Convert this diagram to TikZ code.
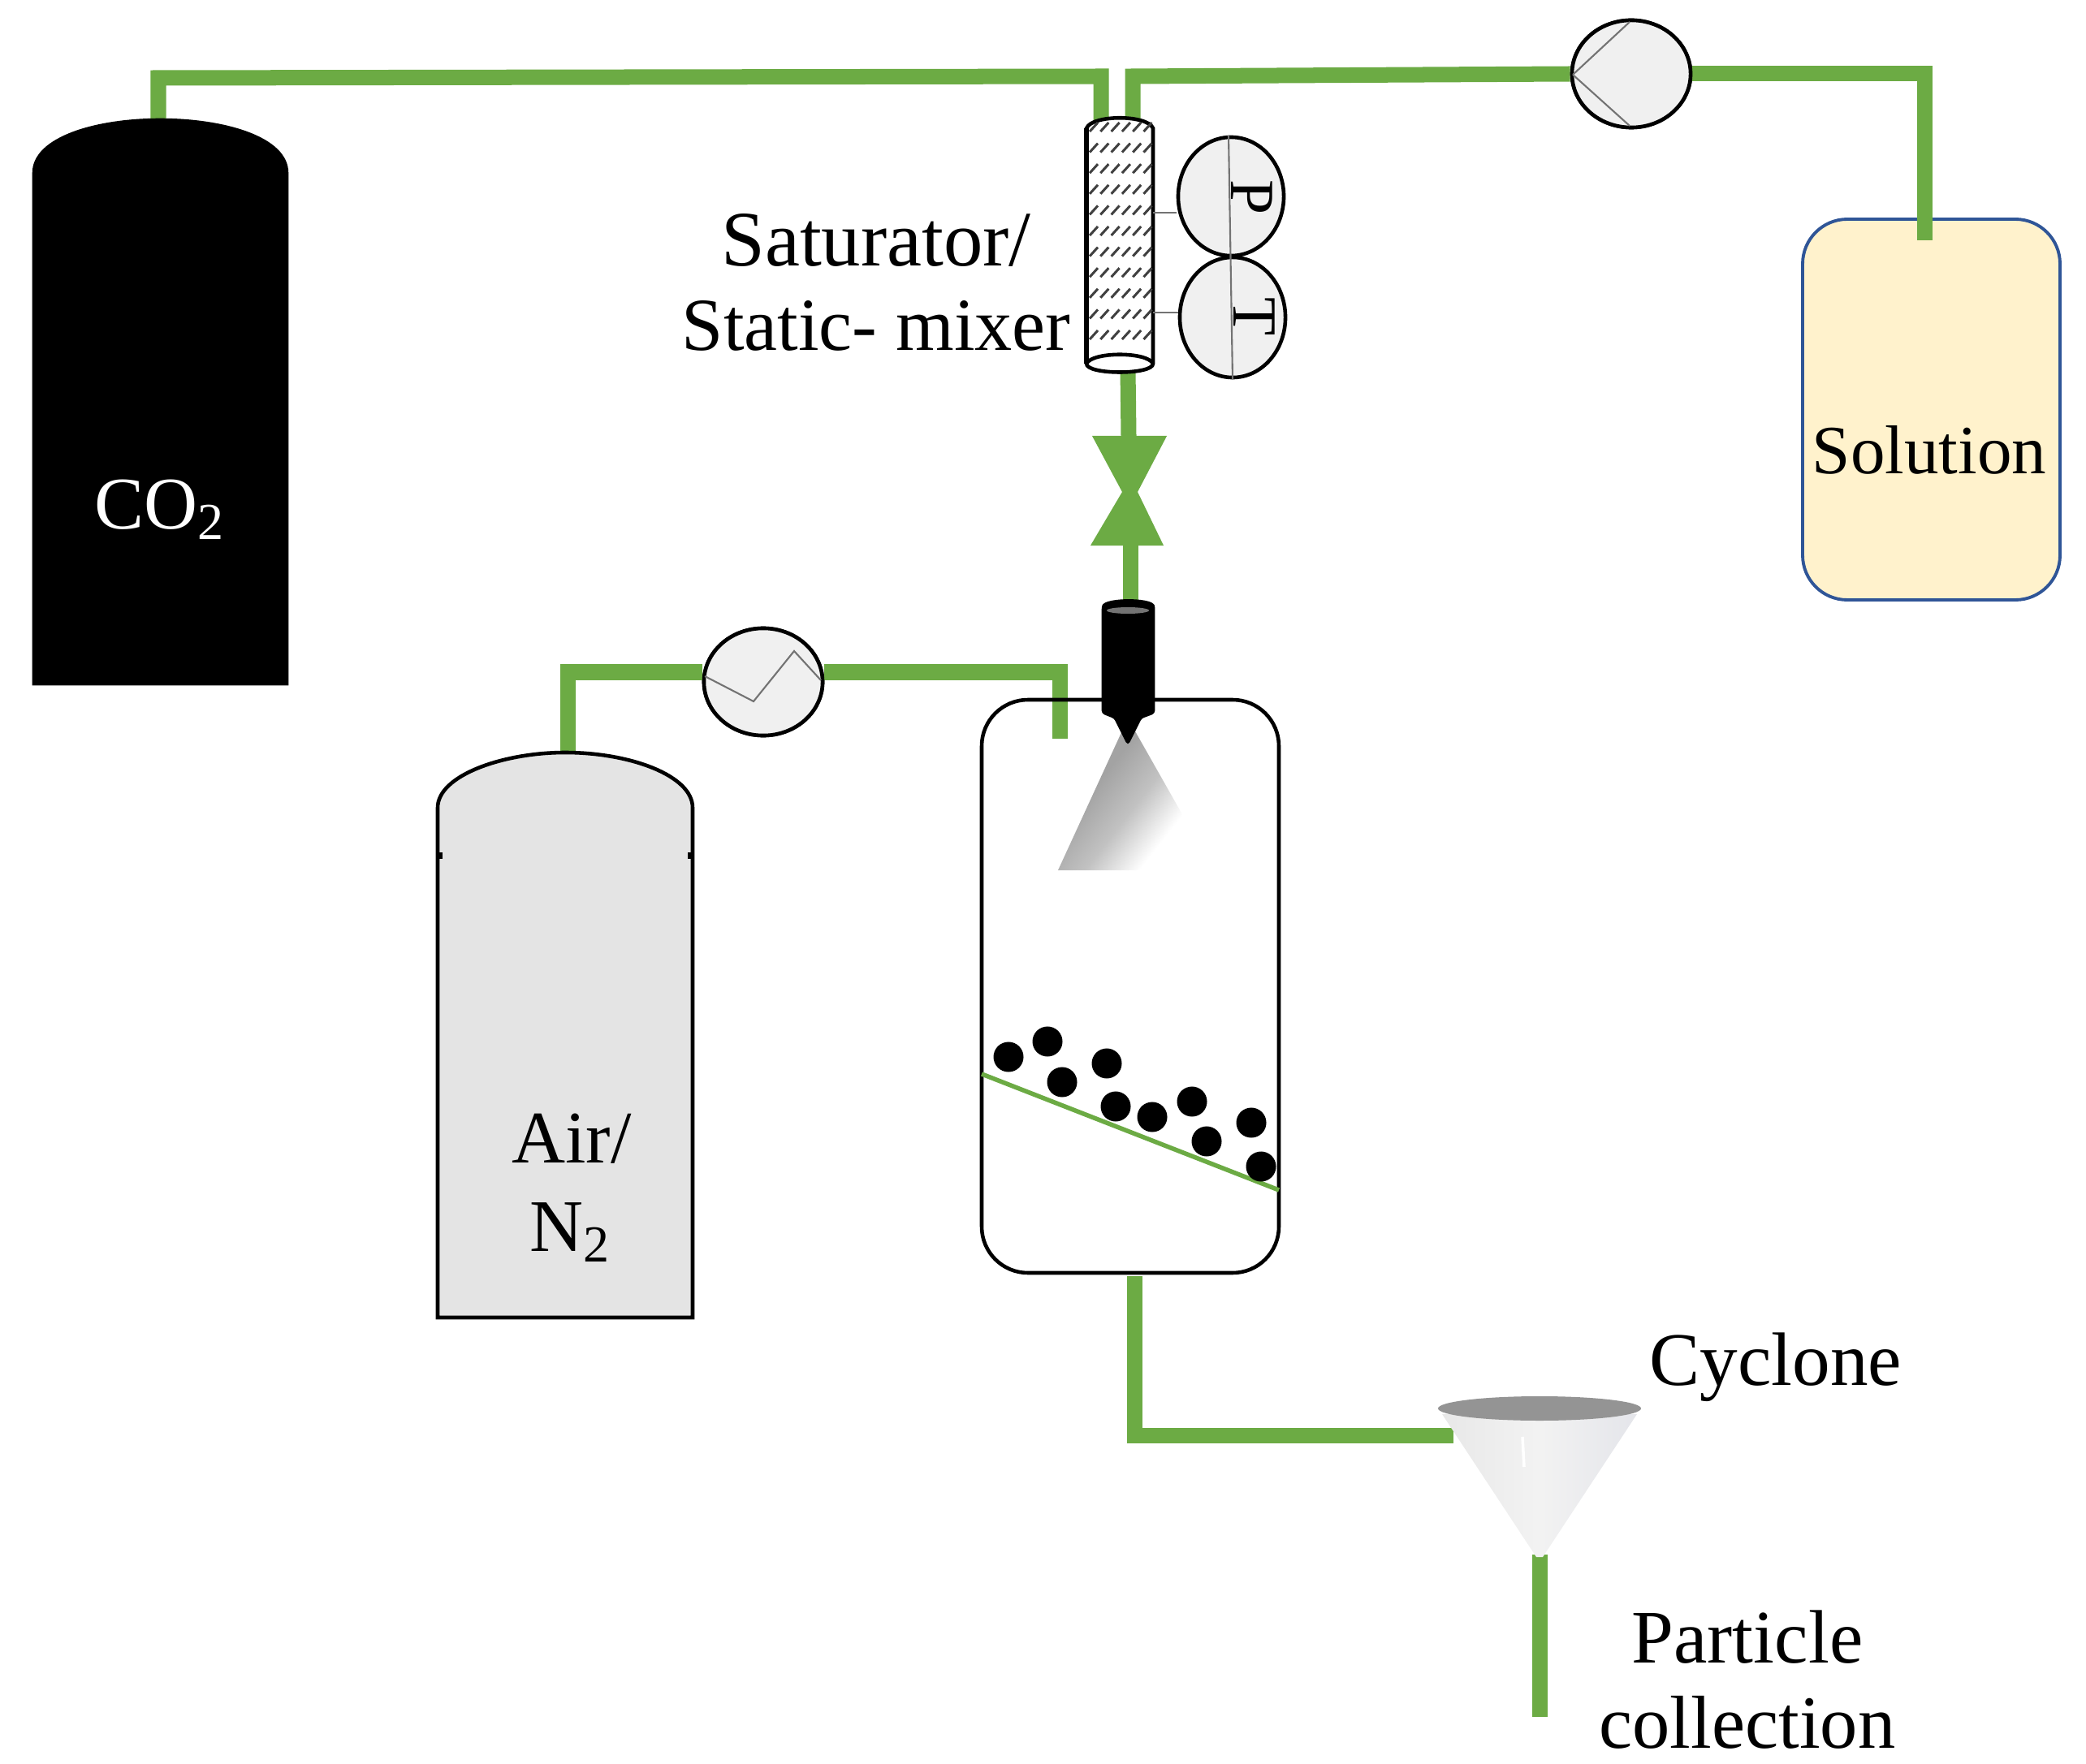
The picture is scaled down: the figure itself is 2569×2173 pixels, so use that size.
\documentclass[tikz,border=0pt]{standalone}
\usepackage{fontspec}
\setmainfont{Liberation Serif}
\usetikzlibrary{shapes.geometric}
\definecolor{pipegreen}{HTML}{6CAB44}
\definecolor{solfill}{HTML}{FFF2CC}
\definecolor{solline}{HTML}{2F5597}
\definecolor{dialfill}{HTML}{F0F0F0}
\definecolor{airfill}{HTML}{E4E4E4}
\definecolor{conefill}{HTML}{E4E5EA}
\pgfdeclarehorizontalshading{spray}{100bp}{color(0bp)=(black!36); color(38bp)=(black!36); color(52bp)=(black!24); color(66bp)=(white); color(100bp)=(white)}
\begin{document}
\begin{tikzpicture}[x=0.01cm,y=-0.01cm,
  pipe/.style={draw=pipegreen,line width=0.19cm,line join=miter},
  dial/.style={ellipse,draw,line width=1.3pt,fill=dialfill,inner sep=0pt,minimum width=1.46cm,minimum height=1.32cm},
  thin gray/.style={draw=black!55,line width=0.6pt},
  bead/.style={circle,fill=black,inner sep=0pt,minimum size=0.37cm},
  tag/.style={font=\fontsize{26}{30}\selectfont,inner sep=0pt}]
  \useasboundingbox (0,0) rectangle (2569,2173);
  \coordinate (co2_top) at (195,150);
  \coordinate (air_top) at (699,930);
  \coordinate (sat_l) at (1356,150);
  \coordinate (sat_r) at (1395,150);
  \coordinate (sat_b) at (1389,455);
  \coordinate (valve_t) at (1390,537);
  \coordinate (valve_b) at (1392,672);
  \coordinate (noz_top) at (1392,742);
  \coordinate (sol_top) at (2370,296);
  \coordinate (air_in) at (1305,910);
  \coordinate (ves_out) at (1397,1572);
  \coordinate (cyc_in) at (1790,1768);
  \coordinate (cyc_out) at (1896,1915);
  \coordinate (collect) at (1896,2115);
  \node[dial] (pump_sol) at (2009,91) {};
  \node[dial] (pump_air) at (940,840) {};

  \draw[pipe] (co2_top) -- (195,96) -- (1356,94) -- (sat_l);
  \draw[pipe] (sat_r) -- (1395,94) -- (pump_sol.west);
  \draw[pipe] (pump_sol.east) -- (2370,91) -- (sol_top);
  \draw[pipe] (sat_b) -- (valve_t);
  \draw[pipe] (valve_b) -- (noz_top);
  \draw[pipe] (air_top) -- (699,828) -- (pump_air.west |- 0,828);
  \draw[pipe] (pump_air.east |- 0,828) -- (1305,828) -- (air_in);
  \draw[pipe] (ves_out) -- (1397,1768) -- (cyc_in);
  \draw[pipe] (cyc_out) -- (collect);

  \node[dial] at (pump_sol) {};
  \node[dial] at (pump_air) {};
  \draw[thin gray] (1937,92) -- (2007,27);
  \draw[thin gray] (1937,92) -- (2007,155);
  \draw[thin gray] (868,833) -- (928,864) -- (978,802) -- (1011,838);

  \fill[pipegreen] (1345,537) -- (1437,537) -- (1401,606) -- (1433,672) -- (1343,672) -- (1382,606) -- cycle;

  \draw[fill=black,line width=1.3pt] (42,842) -- (42,213) .. controls (42,170) and (120,148) .. (197,148) .. controls (275,148) and (353,170) .. (353,213) -- (353,842) -- cycle;
  \node[tag,text=white] (co2) at (197,628) {CO\textsubscript{2}};

  \draw[fill=airfill,line width=1.3pt] (539,1623) -- (539,995) .. controls (539,955) and (620,927) .. (696,927) .. controls (775,927) and (853,955) .. (853,995) -- (853,1623) -- cycle;
  \draw[line width=1.3pt] (543,1050) -- (543,1058) (849,1050) -- (849,1058);
  \node[tag] (air) at (704,1403) {Air/};
  \node[tag] (n2) at (702,1518) {N\textsubscript{2}};

  \draw[draw=solline,fill=solfill,line width=1.1pt,rounded corners=0.55cm] (2220,270) rectangle (2537,739);
  \draw[pipe] (2370,265) -- (sol_top);
  \node[tag,font=\fontsize{24.2}{28}\selectfont] (solution) at (2376,554) {Solution};

  \draw[fill=white,line width=1.3pt] (1338,158) .. controls (1345,141) and (1413,141) .. (1420,158) -- (1420,448) .. controls (1420,462) and (1338,462) .. (1338,448) -- cycle;
  \draw[line width=1.8pt] (1338,158) -- (1338,448);
  \foreach \yy in {0,...,10}
    \foreach \xx in {0,...,5}
      \draw[black!75,line width=0.85pt] (1342+\xx*13.3,162+\yy*25.6) -- +(10,-11);
  \draw[line width=1.3pt] (1338,448) .. controls (1345,433) and (1413,433) .. (1420,448);
  \node[dial,minimum width=1.3cm,minimum height=1.46cm] (gauge_p) at (1516,242) {};
  \node[dial,minimum width=1.3cm,minimum height=1.48cm] (gauge_t) at (1518,391) {};
  \draw[thin gray] (1420,262) -- (gauge_p.west |- 0,262);
  \draw[thin gray] (1420,385) -- (gauge_t.west |- 0,385);
  \draw[thin gray] (gauge_p.north) ++(-3,0) -- (gauge_t.south);
  \node[tag,rotate=-90,font=\fontsize{22}{26}\selectfont] (p) at (1542,243) {P};
  \node[tag,rotate=-90,font=\fontsize{22}{26}\selectfont] (t) at (1545,390) {T};
  \node[tag,font=\fontsize{27.5}{30}\selectfont] (sat1) at (1079,296) {Saturator/};
  \node[tag,font=\fontsize{26.2}{30}\selectfont] (sat2) at (1079,401) {Static- mixer};

  \draw[line width=1.3pt,rounded corners=0.57cm] (1209,862) rectangle (1575,1568);
  \draw[pipegreen,line width=0.055cm] (1209,1323) -- (1575,1466);
  \foreach \bx/\by in {1242/1302,1290/1283,1308/1333,1363/1310,1374/1363,1419/1376,1468/1357,1486/1406,1541/1383,1553/1437}
    \node[bead] at (\bx,\by) {};

  \shade[shading=spray,shading angle=-38] (1389,885) -- (1495,1072) -- (1303,1072) -- cycle;
  \draw[fill=black,line width=0.8pt,rounded corners=0.03cm] (1358,750) .. controls (1360,737) and (1420,737) .. (1421,750) -- (1421,878) -- (1405,884) -- (1389,916) -- (1373,884) -- (1358,878) -- cycle;
  \fill[black!55] (1389,752) ellipse [x radius=26,y radius=4];

  \shade[left color=black!9,right color=conefill,middle color=black!5] (1776,1742) -- (2016,1742) -- (1900,1918) -- (1892,1918) -- cycle;
  \draw[white,line width=1pt] (1875,1770) -- (1877,1807);
  \fill[black!42] (1896,1735) ellipse [x radius=125,y radius=15];
  \node[tag,font=\fontsize{26.5}{30}\selectfont] (cyclone) at (2187,1684) {Cyclone};
  \node[tag,font=\fontsize{26.5}{30}\selectfont] (part1) at (2152,2017) {Particle};
  \node[tag,font=\fontsize{26.3}{30}\selectfont] (part2) at (2152,2122) {collection};
\end{tikzpicture}
\end{document}
